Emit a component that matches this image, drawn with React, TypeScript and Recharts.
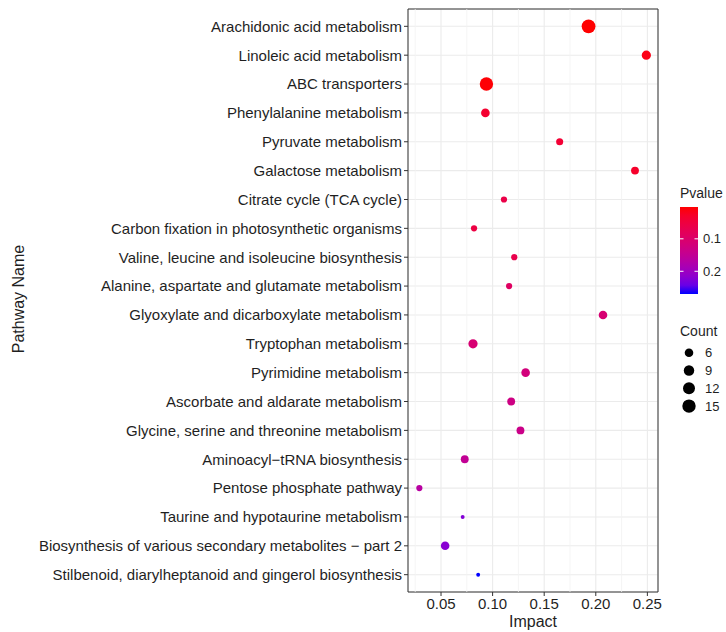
import React from 'react';
import {
  ScatterChart, Scatter, XAxis, YAxis, ZAxis, CartesianGrid, ReferenceLine, ReferenceArea, Cell,
} from 'recharts';

// --- data, top row first ---
const pathways = [
  'Arachidonic acid metabolism',
  'Linoleic acid metabolism',
  'ABC transporters',
  'Phenylalanine metabolism',
  'Pyruvate metabolism',
  'Galactose metabolism',
  'Citrate cycle (TCA cycle)',
  'Carbon fixation in photosynthetic organisms',
  'Valine, leucine and isoleucine biosynthesis',
  'Alanine, aspartate and glutamate metabolism',
  'Glyoxylate and dicarboxylate metabolism',
  'Tryptophan metabolism',
  'Pyrimidine metabolism',
  'Ascorbate and aldarate metabolism',
  'Glycine, serine and threonine metabolism',
  'Aminoacyl\u2212tRNA biosynthesis',
  'Pentose phosphate pathway',
  'Taurine and hypotaurine metabolism',
  'Biosynthesis of various secondary metabolites \u2212 part 2',
  'Stilbenoid, diarylheptanoid and gingerol biosynthesis',
];
const impact = [0.193, 0.249, 0.094, 0.093, 0.165, 0.238, 0.111, 0.082, 0.121, 0.116,
  0.207, 0.081, 0.132, 0.118, 0.127, 0.073, 0.029, 0.071, 0.054, 0.086];
const pvalue = [0.002, 0.012, 0.004, 0.035, 0.04, 0.03, 0.06, 0.055, 0.065, 0.09,
  0.11, 0.11, 0.12, 0.13, 0.135, 0.15, 0.165, 0.225, 0.22, 0.27];
const count = [16, 7, 15, 6, 4, 5, 3, 3, 3, 3, 6, 7, 6, 5, 5, 5, 3, 1, 6, 1];

const xTicks = [0.05, 0.1, 0.15, 0.2, 0.25];
const xMinor = [0.025, 0.075, 0.125, 0.175, 0.225];
const pTicks = [0.1, 0.2];
const sizeBreaks = [6, 9, 12, 15];

const data = pathways.map((name, i) => ({
  name, y: i, impact: impact[i], p: pvalue[i], count: count[i],
}));

// --- colour scale: red (low p) -> blue (high p), Lab interpolation ---
const toLin = (c: number) => (c <= 0.04045 ? c / 12.92 : Math.pow((c + 0.055) / 1.055, 2.4));
const fromLin = (c: number) => {
  const v = c <= 0.0031308 ? 12.92 * c : 1.055 * Math.pow(c, 1 / 2.4) - 0.055;
  return Math.round(Math.max(0, Math.min(1, v)) * 255);
};
const rgbToLab = (r: number, g: number, b: number) => {
  const R = toLin(r / 255), G = toLin(g / 255), B = toLin(b / 255);
  const X = (0.4124 * R + 0.3576 * G + 0.1805 * B) / 0.95047;
  const Y = 0.2126 * R + 0.7152 * G + 0.0722 * B;
  const Z = (0.0193 * R + 0.1192 * G + 0.9505 * B) / 1.08883;
  const f = (t: number) => (t > 0.008856 ? Math.cbrt(t) : 7.787 * t + 16 / 116);
  return [116 * f(Y) - 16, 500 * (f(X) - f(Y)), 200 * (f(Y) - f(Z))];
};
const labToHex = (L: number, a: number, b: number) => {
  const fy = (L + 16) / 116, fx = fy + a / 500, fz = fy - b / 200;
  const inv = (t: number) => (t ** 3 > 0.008856 ? t ** 3 : (t - 16 / 116) / 7.787);
  const X = inv(fx) * 0.95047, Y = inv(fy), Z = inv(fz) * 1.08883;
  const R = 3.2406 * X - 1.5372 * Y - 0.4986 * Z;
  const G = -0.9689 * X + 1.8758 * Y + 0.0415 * Z;
  const B = 0.0557 * X - 0.204 * Y + 1.057 * Z;
  return '#' + [R, G, B].map((c) => fromLin(c).toString(16).padStart(2, '0')).join('');
};
const LOW = rgbToLab(255, 0, 0);
const HIGH = rgbToLab(0, 0, 255);
const pMin = Math.min(...pvalue);
const pMax = Math.max(...pvalue);
const colorAt = (t: number) =>
  labToHex(LOW[0] + (HIGH[0] - LOW[0]) * t, LOW[1] + (HIGH[1] - LOW[1]) * t, LOW[2] + (HIGH[2] - LOW[2]) * t);
const pColor = (p: number) => colorAt((p - pMin) / (pMax - pMin));

// --- size scale (area linear in count) ---
const cMin = 1, cMax = 17;
const areaRange: [number, number] = [12, 159];
const radiusOf = (c: number) =>
  Math.sqrt((areaRange[0] + ((c - cMin) / (cMax - cMin)) * (areaRange[1] - areaRange[0])) / Math.PI);

const FONT = '"Liberation Sans", Arial, Helvetica, sans-serif';
const TEXT = '#1f1f1f';

const Legends = () => {
  const barTop = 207, barH = 87, barW = 18;
  const stops = Array.from({ length: 11 }, (_, i) => i / 10);
  return (
    <svg width={66} height={240} style={{ position: 'absolute', left: 660, top: 180 }} fontFamily={FONT}>
      <text x={20} y={17.5} fontSize={14} fill={TEXT}>Pvalue</text>
      <defs>
        <linearGradient id="pgrad" x1="0" y1="0" x2="0" y2="1">
          {stops.map((s) => <stop key={s} offset={s} stopColor={colorAt(s)} />)}
        </linearGradient>
      </defs>
      <rect x={20} y={barTop - 180} width={barW} height={barH} fill="url(#pgrad)" />
      {pTicks.map((t) => {
        const y = barTop - 180 + ((t - pMin) / (pMax - pMin)) * barH;
        return (
          <g key={t}>
            <line x1={20} x2={23.5} y1={y} y2={y} stroke="#fff" strokeWidth={1} />
            <line x1={20 + barW - 3.5} x2={20 + barW} y1={y} y2={y} stroke="#fff" strokeWidth={1} />
            <text x={43} y={y + 4.5} fontSize={13} fill={TEXT}>{t}</text>
          </g>
        );
      })}
      <text x={20} y={155.5} fontSize={14} fill={TEXT}>Count</text>
      {sizeBreaks.map((c, i) => {
        const y = 172.7 + i * 17.8;
        return (
          <g key={c}>
            <circle cx={29} cy={y} r={radiusOf(c)} fill="#000" />
            <text x={45} y={y + 4.5} fontSize={13} fill={TEXT}>{c}</text>
          </g>
        );
      })}
    </svg>
  );
};

export default function App() {
  return (
    <div style={{ position: 'absolute', left: 0, top: 0, width: 726, height: 632, background: '#fff', fontFamily: FONT }}>
      <ScatterChart width={726} height={632} margin={{ top: 9, right: 68, bottom: 10, left: 0 }}>
        <CartesianGrid stroke="#ebebeb" strokeWidth={1.1} />
        {xMinor.map((v) => (
          <ReferenceLine key={v} x={v} stroke="#f2f2f2" strokeWidth={0.8} />
        ))}
        <XAxis
          type="number"
          dataKey="impact"
          domain={[0.018, 0.2603]}
          allowDataOverflow
          ticks={xTicks}
          tickFormatter={(v: number) => v.toFixed(2)}
          axisLine={false}
          tickLine={{ stroke: '#333' }}
          tickSize={4}
          height={30}
          tick={{ fontSize: 15, fill: TEXT, fontFamily: FONT }}
        />
        <YAxis
          type="number"
          dataKey="y"
          domain={[-0.6, pathways.length - 0.4]}
          reversed
          allowDataOverflow
          ticks={pathways.map((_, i) => i)}
          interval={0}
          tickFormatter={(i: number) => pathways[i]}
          axisLine={false}
          tickLine={{ stroke: '#333' }}
          tickSize={4}
          width={408}
          tick={{ fontSize: 15, fill: TEXT, fontFamily: FONT }}
        />
        <ZAxis type="number" dataKey="count" domain={[cMin, cMax]} range={areaRange} />
        <ReferenceArea
          x1={0.018}
          x2={0.2603}
          y1={-0.6}
          y2={pathways.length - 0.4}
          fill="none"
          stroke="#333"
          strokeWidth={1}
          ifOverflow="visible"
        />
        <Scatter data={data} shape="circle" isAnimationActive={false}>
          {data.map((d) => (
            <Cell key={d.name} fill={pColor(d.p)} />
          ))}
        </Scatter>
      </ScatterChart>
      <div style={{ position: 'absolute', left: 408, width: 250, top: 612, textAlign: 'center', fontSize: 16, color: TEXT, lineHeight: '20px' }}>
        Impact
      </div>
      <div
        style={{
          position: 'absolute', left: 19, top: 299, fontSize: 16, color: TEXT, whiteSpace: 'nowrap',
          transform: 'translate(-50%, -50%) rotate(-90deg)', lineHeight: '16px',
        }}
      >
        Pathway Name
      </div>
      <Legends />
    </div>
  );
}
